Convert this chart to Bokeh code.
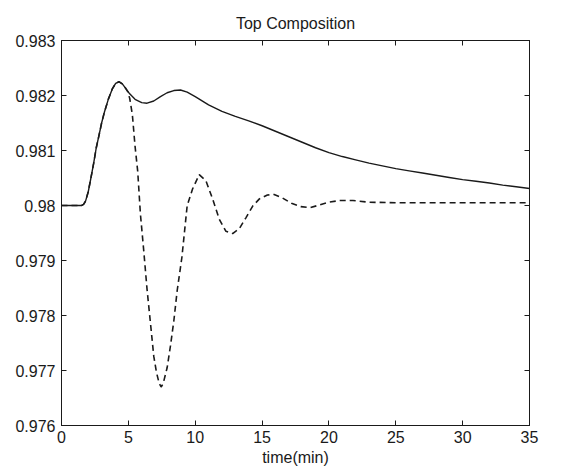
from bokeh.plotting import figure
from bokeh.models import LinearAxis, FixedTicker, Range1d, CustomJSTickFormatter
from bokeh.embed import file_html
from bokeh.resources import INLINE

# Top composition response: solid = first controller, dashed = second controller
t_solid = [0, 1.5, 1.65, 1.8, 2.0, 2.2, 2.4, 2.6, 2.8, 3.0, 3.2, 3.5, 3.8, 4.05,
           4.3, 4.55, 4.8, 5.1, 5.5, 6.0, 6.4, 6.9, 7.4, 7.9, 8.4, 8.9, 9.4,
           10.0, 11.0, 12.0, 13.0, 14.0, 15.0, 16.0, 17.0, 18.0, 19.0, 20.0,
           21.0, 22.0, 23.0, 24.0, 25.0, 26.0, 27.0, 28.0, 29.0, 30.0, 31.0,
           32.0, 33.0, 34.0, 35.0]
x_solid = [0.98000, 0.98000, 0.98002, 0.98008, 0.98025, 0.98050, 0.98076,
           0.98105, 0.98127, 0.98150, 0.98169, 0.98193, 0.98212, 0.98222,
           0.98225, 0.98221, 0.98213, 0.98203, 0.98193, 0.98187, 0.98186,
           0.98190, 0.98198, 0.98205, 0.98209, 0.98210, 0.98206, 0.98198,
           0.98183, 0.98171, 0.98162, 0.98154, 0.98145, 0.98135, 0.98125,
           0.98115, 0.98105, 0.98096, 0.98089, 0.98083, 0.98077, 0.98072,
           0.98067, 0.98063, 0.98059, 0.98055, 0.98051, 0.98047, 0.98044,
           0.98041, 0.98037, 0.98034, 0.98031]

t_dash = [0, 1.5, 1.65, 1.8, 2.0, 2.2, 2.4, 2.6, 2.8, 3.0, 3.2, 3.5, 3.8, 4.05,
          4.3, 4.55, 4.8, 4.95, 5.1, 5.3, 5.5, 5.7, 5.9, 6.15, 6.4, 6.65, 6.9,
          7.1, 7.3, 7.45, 7.6, 7.9, 8.15, 8.4, 8.65, 9.0, 9.4, 9.8, 10.3, 10.8,
          11.3, 11.8, 12.3, 12.8, 13.3, 13.8, 14.3, 14.8, 15.4, 15.9, 16.5,
          17.2, 17.9, 18.6, 19.3, 20.0, 20.8, 21.8, 23.0, 25.0, 30.0, 35.0]
x_dash = [0.98000, 0.98000, 0.98002, 0.98008, 0.98025, 0.98050, 0.98076,
          0.98105, 0.98127, 0.98150, 0.98169, 0.98193, 0.98212, 0.98222,
          0.98225, 0.98221, 0.98213, 0.98207, 0.98195, 0.98165, 0.98108,
          0.98062, 0.97985, 0.97918, 0.97847, 0.97787, 0.97726, 0.97697,
          0.97677, 0.97670, 0.97676, 0.97705, 0.97745, 0.97790, 0.97845,
          0.97905, 0.98000, 0.98030, 0.98056, 0.98045, 0.98012, 0.97975,
          0.97953, 0.97949, 0.97958, 0.97978, 0.97999, 0.98012, 0.98019,
          0.98020, 0.98014, 0.98004, 0.97998, 0.97996, 0.98001, 0.98006,
          0.98009, 0.98009, 0.98006, 0.98005, 0.98005, 0.98005]

x_ticks = [0, 5, 10, 15, 20, 25, 30, 35]
y_ticks = [0.976, 0.977, 0.978, 0.979, 0.980, 0.981, 0.982, 0.983]

FONT = "Liberation Sans"
INK = "#1a1a1a"

p = figure(width=564, height=471, output_backend="svg", toolbar_location=None,
           x_range=Range1d(0, 35), y_range=Range1d(0.976, 0.983),
           x_axis_label="time(min)", title="Top Composition",
           min_border_left=61, min_border_right=35, min_border_top=40,
           min_border_bottom=46)
p.background_fill_color = "white"
p.border_fill_color = "white"
p.outline_line_color = INK
p.outline_line_width = 1
p.xgrid.visible = False
p.ygrid.visible = False

p.title.align = "center"
p.title.text_font = FONT
p.title.text_font_size = "16px"
p.title.text_font_style = "normal"
p.title.text_color = INK
p.title.standoff = 18

# numeric labels written like "0.98" rather than "0.980"
fmt = CustomJSTickFormatter(code="return String(parseFloat(tick.toFixed(4)));")

for ax, ticks in ((p.xaxis[0], x_ticks), (p.yaxis[0], y_ticks)):
    ax.ticker = FixedTicker(ticks=ticks)
    ax.formatter = fmt
    ax.major_tick_in = 5
    ax.major_tick_out = 0
    ax.minor_tick_line_color = None
    ax.axis_line_color = INK
    ax.major_tick_line_color = INK
    ax.major_label_text_font = FONT
    ax.major_label_text_font_size = "16px"
    ax.major_label_text_color = INK

p.yaxis.major_label_standoff = 6
p.xaxis.major_label_standoff = 5
p.xaxis.axis_label_text_font = FONT
p.xaxis.axis_label_text_font_size = "16px"
p.xaxis.axis_label_text_font_style = "normal"
p.xaxis.axis_label_text_color = INK
p.xaxis.axis_label_standoff = 3

# tick marks on the top and right edges of the box (no labels there)
for ticks, side in ((x_ticks, "above"), (y_ticks, "right")):
    ax = LinearAxis(ticker=FixedTicker(ticks=ticks))
    ax.major_tick_in = 5
    ax.major_tick_out = 0
    ax.minor_tick_line_color = None
    ax.axis_line_color = INK
    ax.major_tick_line_color = INK
    ax.major_label_text_font_size = "1px"
    ax.major_label_text_color = None
    ax.major_label_standoff = 0
    p.add_layout(ax, side)

p.line(t_solid, x_solid, line_color=INK, line_width=1.4)
p.line(t_dash, x_dash, line_color=INK, line_width=1.6, line_dash="6 4")

open("out.html", "w").write(file_html(p, INLINE))
